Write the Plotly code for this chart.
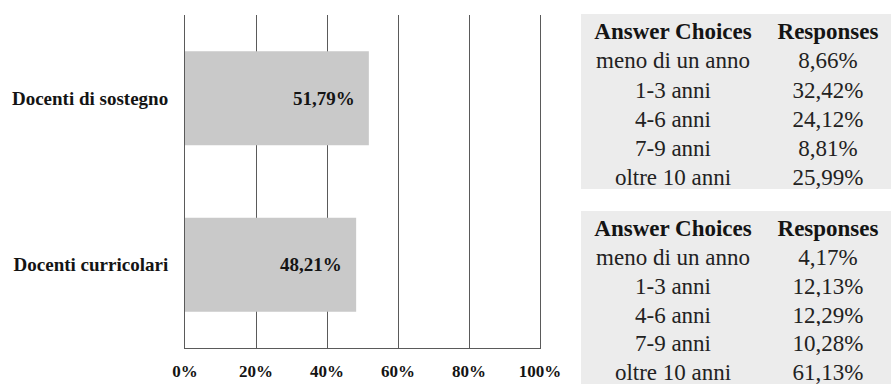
import plotly.graph_objects as go

# Share of respondents by teacher type
categories = ["Docenti curricolari", "Docenti di sostegno"]
shares = [48.21, 51.79]
x_ticks = [0, 20, 40, 60, 80, 100]

# Years of experience breakdown, one table per teacher type
choices = ["meno di un anno", "1-3 anni", "4-6 anni", "7-9 anni", "oltre 10 anni"]
responses_sostegno = [8.66, 32.42, 24.12, 8.81, 25.99]
responses_curricolari = [4.17, 12.13, 12.29, 10.28, 61.13]
table_header = ["Answer Choices", "Responses"]

SERIF = "Liberation Serif, Times New Roman, serif"
INK = "#141414"
GRID = "#5a5a5a"
BAR = "#c9c9c9"
CELL = "#ececec"

W, H = 891, 384
PLOT_L, PLOT_R, PLOT_T, PLOT_B = 185, 540, 15, 348


def pct(v):
    return f"{v:.2f}".replace(".", ",") + "%"


fig = go.Figure()

fig.add_trace(go.Bar(
    x=shares,
    y=categories,
    orientation="h",
    marker=dict(color=BAR, line=dict(width=0)),
    hoverinfo="skip",
    showlegend=False,
))

# Value labels sit inside the bar, just left of its end
for v, c in zip(shares, categories):
    fig.add_annotation(
        x=v, y=c, xref="x", yref="y",
        text=f"<b>{pct(v)}</b>",
        showarrow=False, xanchor="right", xshift=-12,
        font=dict(family=SERIF, size=19, color=INK),
    )


def add_table(values, top_px, bottom_px, row_h):
    fig.add_trace(go.Table(
        domain=dict(x=[581 / W, 1.0], y=[1 - bottom_px / H, 1 - top_px / H]),
        columnwidth=[184, 126],
        header=dict(
            values=table_header,
            fill_color=CELL,
            line=dict(color=CELL, width=0),
            align="center",
            height=row_h,
            font=dict(family=SERIF, size=23, color=INK, weight="bold"),
        ),
        cells=dict(
            values=[choices, [pct(v) for v in values]],
            fill_color=CELL,
            line=dict(color=CELL, width=0),
            align="center",
            height=row_h,
            font=dict(family=SERIF, size=23, color="#222222"),
        ),
    ))


add_table(responses_sostegno, 14, 196, 29.2)
add_table(responses_curricolari, 211, 384, 28.8)

fig.update_layout(
    width=W, height=H,
    margin=dict(l=0, r=0, t=0, b=0, autoexpand=False),
    paper_bgcolor="white",
    plot_bgcolor="white",
    bargap=0.435,
    xaxis=dict(
        domain=[PLOT_L / W, PLOT_R / W],
        range=[0, 100],
        tickvals=x_ticks,
        ticktext=[f"<b>{t}%</b>" for t in x_ticks],
        showgrid=True, gridcolor=GRID, gridwidth=1,
        showline=True, linecolor=GRID, linewidth=1,
        zeroline=False,
        ticks="", ticklabelstandoff=8,
        tickfont=dict(family=SERIF, size=17, color=INK),
        automargin=False,
        fixedrange=True,
    ),
    yaxis=dict(
        domain=[1 - PLOT_B / H, 1 - PLOT_T / H],
        tickvals=categories,
        ticktext=[f"<b>{c}</b>" for c in categories],
        showgrid=False,
        showline=True, linecolor=GRID, linewidth=1, mirror=True,
        ticks="", ticklabelstandoff=12,
        tickfont=dict(family=SERIF, size=19, color=INK),
        automargin=False,
        fixedrange=True,
    ),
)

fig.write_html("out.html")
